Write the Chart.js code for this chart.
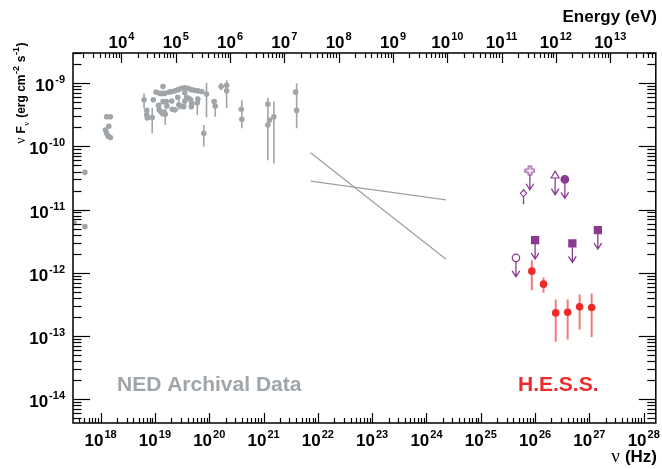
<!DOCTYPE html>
<html><head><meta charset="utf-8">
<script src="https://cdn.jsdelivr.net/npm/chart.js@4/dist/chart.umd.min.js"></script>
<style>html,body{margin:0;padding:0;background:#fff;}canvas{display:block;}</style>
</head><body>
<canvas id="c" width="662" height="469"></canvas>
<script>
// ---- NED archival data (Hz, erg cm^-2 s^-1) ----
const nedNu = [3.24e17,5.13e17,5.13e17,1.29e18,1.51e18,1.41e18,1.23e18,1.29e18,1.38e18,1.51e18,
  6.31e18,7.08e18,7.08e18,7.24e18,8.91e18,9.33e18,1.05e19,1.17e19,1.20e19,1.29e19,
  1.38e19,1.48e19,1.55e19,1.41e19,1.38e19,1.23e19,1.51e19,1.41e19,1.62e19,1.66e19,
  1.82e19,2.04e19,2.34e19,2.69e19,3.09e19,3.55e19,4.07e19,4.68e19,5.37e19,6.17e19,
  7.24e19,2.04e19,2.09e19,2.34e19,2.63e19,2.75e19,3.09e19,3.39e19,3.55e19,3.55e19,
  3.98e19,4.57e19,4.79e19,4.68e19,6.03e19,6.17e19,7.94e19,8.91e19,1.23e20,1.29e20,
  1.66e20,2.09e20,2.09e20,3.89e20,3.98e20,1.20e21,1.20e21,1.29e21,1.55e21,3.89e21,4.07e21];
const nedFlux = [6.17e-12,3.89e-11,5.37e-12,2.95e-10,2.95e-10,2.09e-10,1.82e-10,1.62e-10,1.45e-10,1.38e-10,
  5.50e-10,3.72e-10,3.16e-10,2.82e-10,2.88e-10,5.50e-10,7.24e-10,4.47e-10,3.80e-10,3.55e-10,
  3.31e-10,3.47e-10,3.24e-10,8.91e-10,6.92e-10,6.92e-10,6.92e-10,5.13e-10,5.13e-10,4.37e-10,
  7.24e-10,7.41e-10,7.59e-10,7.94e-10,8.32e-10,8.51e-10,8.32e-10,7.94e-10,7.76e-10,7.59e-10,
  7.41e-10,5.25e-10,3.89e-10,3.80e-10,6.03e-10,4.57e-10,4.37e-10,4.27e-10,5.25e-10,7.08e-10,
  5.89e-10,5.50e-10,4.79e-10,4.27e-10,4.90e-10,5.62e-10,1.62e-10,6.76e-10,5.13e-10,4.37e-10,
  8.91e-10,9.33e-10,7.59e-10,3.89e-10,2.69e-10,4.68e-10,2.19e-10,2.63e-10,2.95e-10,7.24e-10,3.72e-10];
const nedLo = [null,null,null,null,null,null,null,null,null,null,
  3.98e-10,2.63e-10,null,null,1.62e-10,null,null,null,null,null,
  null,null,2.19e-10,null,null,null,null,null,null,null,
  null,null,null,null,null,null,null,null,null,null,
  null,null,null,null,null,3.80e-10,null,null,4.27e-10,null,
  null,3.98e-10,null,null,3.16e-10,null,1.00e-10,2.88e-10,null,2.95e-10,
  7.76e-10,null,4.07e-10,null,1.95e-10,null,6.03e-11,null,5.37e-11,null,1.95e-10];
const nedHi = [null,null,null,null,null,null,null,null,null,null,
  6.92e-10,4.07e-10,null,null,4.07e-10,null,null,null,null,null,
  null,null,3.98e-10,null,null,null,null,null,null,null,
  null,null,null,null,null,null,null,null,null,null,
  null,null,null,null,null,5.43e-10,null,null,7.59e-10,null,
  null,6.17e-10,null,null,6.17e-10,null,2.19e-10,1.02e-9,null,5.62e-10,
  1.02e-9,null,1.12e-9,null,5.50e-10,null,5.89e-10,null,5.13e-10,null,1.00e-9];

// ---- grey power-law lines ----
const lineANu = [7.35e21, 2.29e24];
const lineAFlux = [7.94e-11, 1.64e-12];
const lineBNu = [7.35e21, 2.29e24];
const lineBFlux = [2.83e-11, 1.42e-11];

// ---- H.E.S.S. ----
const hessNu = [8.71e25,1.43e26,2.40e26,3.98e26,6.61e26,1.10e27];
const hessFlux = [1.06e-12,6.59e-13,2.31e-13,2.37e-13,2.88e-13,2.82e-13];
const hessLo = [5.30e-13,4.81e-13,8.04e-14,8.77e-14,1.26e-13,9.64e-14];
const hessHi = [1.58e-12,8.43e-13,3.78e-13,3.78e-13,4.53e-13,4.70e-13];

// ---- purple upper limits ----
const limNu = [8.02e25,2.34e26,3.53e26,1.00e26,4.86e26,1.43e27,4.44e25];
const limFlux = [4.12e-11,3.44e-11,3.01e-11,3.29e-12,2.91e-12,4.73e-12,1.72e-12];
const limMarker = ['openCross','openTriangle','circle','square','square','square','openCircle'];
const diamondNu = [6.12e25];
const diamondFlux = [1.81e-11];
const diamondLo = [1.21e-11];
const diamondHi = [2.11e-11];

// ---- tick labels ----
const nuTickExp = [18,19,20,21,22,23,24,25,26,27,28];
const fluxTickExp = [-9,-10,-11,-12,-13,-14];
const energyTickExp = [4,5,6,7,8,9,10,11,12,13];
const H_EV_S = 4.135667e-15;

const GREY = '#a0a5aa', RED = '#ee2a2a', REDBAR = '#f27a7a', PURPLE = '#8b3a91';
const FONT = '"Liberation Sans", Arial, Helvetica, sans-serif';

function openCross() {
  const c = document.createElement('canvas'); c.width = 11; c.height = 11;
  const g = c.getContext('2d');
  g.fillStyle = '#fff'; g.strokeStyle = PURPLE; g.lineWidth = 1.2;
  g.beginPath();
  const p = [[4,1],[7,1],[7,4],[10,4],[10,7],[7,7],[7,10],[4,10],[4,7],[1,7],[1,4],[4,4]];
  p.forEach((q,i)=> i? g.lineTo(q[0],q[1]) : g.moveTo(q[0],q[1]));
  g.closePath(); g.fill(); g.stroke();
  return c;
}
const crossImg = openCross();
const styleMap = {openCross: crossImg, openTriangle:'triangle', circle:'circle', square:'rect', openCircle:'circle'};
const filled = {openCross:false, openTriangle:false, circle:true, square:true, openCircle:false};
const markerRadius = {openCross:3.7, openTriangle:4.6, circle:3.8, square:5, openCircle:3.7};

function logTicks(lo, hi) {
  const out = [];
  for (let e = Math.floor(Math.log10(lo)) - 1; e <= Math.ceil(Math.log10(hi)); e++) {
    for (let k = 1; k <= 9; k++) {
      const v = k * Math.pow(10, e);
      if (v >= lo * 0.9999 && v <= hi * 1.0001) out.push({v, major: k === 1});
    }
  }
  return out;
}

function drawPow(ctx, exp, x, y, align) {
  const base = 'bold 17px ' + FONT, sup = 'bold 11px ' + FONT;
  ctx.font = base; const wb = ctx.measureText('10').width;
  ctx.font = sup; const we = ctx.measureText(String(exp)).width;
  const total = wb + 1 + we;
  const x0 = align === 'center' ? x - total / 2 : (align === 'right' ? x - total : x);
  ctx.textAlign = 'left'; ctx.textBaseline = 'alphabetic';
  ctx.font = base; ctx.fillText('10', x0, y);
  ctx.font = sup; ctx.fillText(String(exp), x0 + wb + 1, y - 8);
}

function vbar(ctx, sx, sy, x, lo, hi) {
  ctx.beginPath();
  ctx.moveTo(sx.getPixelForValue(x), sy.getPixelForValue(lo));
  ctx.lineTo(sx.getPixelForValue(x), sy.getPixelForValue(hi));
  ctx.stroke();
}

const rootPlugin = {
  id: 'rootStyle',
  beforeDatasetsDraw(chart) {
    const {ctx, chartArea: a, scales: {x, y}} = chart;
    ctx.save();
    ctx.beginPath(); ctx.rect(a.left, a.top, a.right - a.left, a.bottom - a.top); ctx.clip();
    ctx.strokeStyle = GREY; ctx.lineWidth = 1.6;
    nedNu.forEach((v, i) => { if (nedLo[i] !== null) vbar(ctx, x, y, v, nedLo[i], nedHi[i]); });
    ctx.strokeStyle = REDBAR; ctx.lineWidth = 2;
    hessNu.forEach((v, i) => vbar(ctx, x, y, v, hessLo[i], hessHi[i]));
    ctx.strokeStyle = PURPLE; ctx.lineWidth = 1.3;
    diamondNu.forEach((v, i) => vbar(ctx, x, y, v, diamondLo[i], diamondHi[i]));
    // upper-limit arrows
    limNu.forEach((v, i) => {
      const px = x.getPixelForValue(v), py = y.getPixelForValue(limFlux[i]);
      const tip = py + 19;
      ctx.beginPath();
      ctx.moveTo(px, py); ctx.lineTo(px, tip);
      ctx.moveTo(px - 3.8, tip - 6); ctx.lineTo(px, tip); ctx.lineTo(px + 3.8, tip - 6);
      ctx.stroke();
    });
    ctx.restore();
  },
  afterDraw(chart) {
    const {ctx, chartArea: a, scales: {x, y}} = chart;
    ctx.save();
    ctx.strokeStyle = '#000'; ctx.fillStyle = '#000'; ctx.lineWidth = 1.2;
    // bottom ν ticks
    logTicks(x.min, x.max).forEach(t => {
      const px = Math.round(x.getPixelForValue(t.v)) + 0.5;
      const L = t.major ? 10 : 5;
      ctx.beginPath(); ctx.moveTo(px, a.bottom); ctx.lineTo(px, a.bottom - L); ctx.stroke();
    });
    // top energy ticks
    logTicks(x.min * H_EV_S, x.max * H_EV_S).forEach(t => {
      const px = Math.round(x.getPixelForValue(t.v / H_EV_S)) + 0.5;
      const L = t.major ? 10 : 5;
      ctx.beginPath(); ctx.moveTo(px, a.top); ctx.lineTo(px, a.top + L); ctx.stroke();
    });
    // left/right flux ticks
    logTicks(y.min, y.max).forEach(t => {
      const py = Math.round(y.getPixelForValue(t.v)) + 0.5;
      const L = t.major ? 17 : 8.5;
      ctx.beginPath(); ctx.moveTo(a.left, py); ctx.lineTo(a.left + L, py); ctx.stroke();
      ctx.beginPath(); ctx.moveTo(a.right, py); ctx.lineTo(a.right - L, py); ctx.stroke();
    });
    // frame
    ctx.lineWidth = 1.5;
    ctx.strokeRect(a.left, a.top, a.right - a.left, a.bottom - a.top);
    // tick labels
    nuTickExp.forEach(e => drawPow(ctx, e, x.getPixelForValue(Math.pow(10, e)), 446, 'center'));
    energyTickExp.forEach(e => drawPow(ctx, e, x.getPixelForValue(Math.pow(10, e) / H_EV_S), 48, 'center'));
    fluxTickExp.forEach(e => drawPow(ctx, e, a.left - 8, y.getPixelForValue(Math.pow(10, e)) + 8, 'right'));
    // axis titles
    ctx.textBaseline = 'alphabetic';
    ctx.font = 'bold 17px ' + FONT; ctx.textAlign = 'right';
    ctx.fillText('Energy (eV)', 657, 22);
    const hz = '(Hz)';
    ctx.fillText(hz, 657, 462);
    const whz = ctx.measureText(hz).width;
    ctx.font = '19px "Liberation Serif", "DejaVu Serif", serif';
    ctx.fillText('ν', 657 - whz - 5, 462);
    // y title (rotated)
    const parts = [
      {t: 'ν', f: '14px "Liberation Serif", serif', dy: 0},
      {t: ' F', f: 'bold 12px ' + FONT, dy: 0},
      {t: 'ν', f: '9px "Liberation Serif", serif', dy: 4},
      {t: ' (erg cm', f: 'bold 12px ' + FONT, dy: 0},
      {t: '-2', f: 'bold 9px ' + FONT, dy: -6},
      {t: ' s', f: 'bold 12px ' + FONT, dy: 0},
      {t: '-1', f: 'bold 9px ' + FONT, dy: -6},
      {t: ')', f: 'bold 12px ' + FONT, dy: 0}
    ];
    let total = 0;
    parts.forEach(p => { ctx.font = p.f; p.w = ctx.measureText(p.t).width; total += p.w + 0.5; });
    ctx.save();
    ctx.translate(25, 42 + total);
    ctx.rotate(-Math.PI / 2);
    ctx.textAlign = 'left';
    let cx = 0;
    parts.forEach(p => { ctx.font = p.f; ctx.fillText(p.t, cx, p.dy); cx += p.w + 0.5; });
    ctx.restore();
    // in-plot labels
    ctx.textAlign = 'left';
    ctx.font = 'bold 21px ' + FONT;
    ctx.fillStyle = GREY; ctx.fillText('NED Archival Data', 117, 391);
    ctx.fillStyle = RED; ctx.fillText('H.E.S.S.', 518, 391);
    ctx.restore();
  }
};

const pts = (xs, ys) => xs.map((v, i) => ({x: v, y: ys[i]}));

new Chart(document.getElementById('c'), {
  type: 'scatter',
  data: {
    datasets: [
      {label: 'lineA', data: pts(lineANu, lineAFlux), showLine: true, pointRadius: 0,
       borderColor: '#9da2a7', borderWidth: 1.3},
      {label: 'lineB', data: pts(lineBNu, lineBFlux), showLine: true, pointRadius: 0,
       borderColor: '#9da2a7', borderWidth: 1.3},
      {label: 'NED', data: pts(nedNu, nedFlux), pointRadius: 2.8, pointBackgroundColor: GREY,
       pointBorderWidth: 0, borderColor: GREY},
      {label: 'HESS', data: pts(hessNu, hessFlux), pointRadius: 3.8, pointBackgroundColor: RED,
       pointBorderWidth: 0, borderColor: RED},
      {label: 'limits', data: pts(limNu, limFlux),
       pointStyle: limMarker.map(m => styleMap[m]),
       pointRadius: limMarker.map(m => markerRadius[m]),
       pointBackgroundColor: limMarker.map(m => filled[m] ? PURPLE : '#fff'),
       pointBorderColor: PURPLE, pointBorderWidth: 1.2},
      {label: 'diamond', data: pts(diamondNu, diamondFlux), pointStyle: 'rectRot',
       pointRadius: 3.2, pointBackgroundColor: '#fff', pointBorderColor: PURPLE, pointBorderWidth: 1.1}
    ]
  },
  options: {
    responsive: false, animation: false, devicePixelRatio: 1,
    layout: {padding: {left: 73, right: 5.5, top: 53, bottom: 46}},
    plugins: {legend: {display: false}, tooltip: {enabled: false}},
    scales: {
      x: {type: 'logarithmic', min: 3.10e17, max: 1.67e28, display: false},
      y: {type: 'logarithmic', min: 4.17e-15, max: 3.02e-9, display: false}
    }
  },
  plugins: [rootPlugin]
});
</script>
</body></html>
